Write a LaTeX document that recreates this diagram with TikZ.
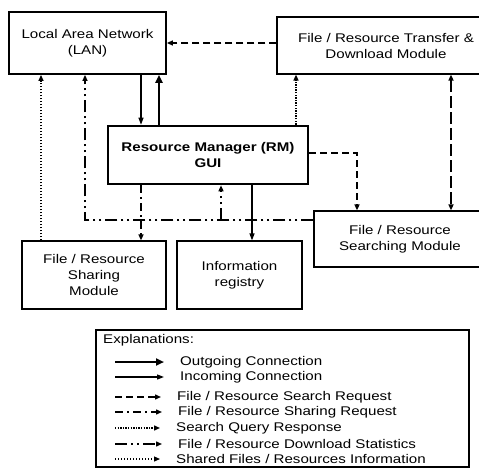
\documentclass[tikz,border=0pt]{standalone}
\usepackage{fontspec}
\setmainfont{Liberation Sans}[FakeStretch=1.2]
\usetikzlibrary{arrows.meta}

\tikzset{
	txt/.style={font=\fontsize{12.6}{16}\selectfont},
	box/.style={draw, line width=1.2pt, align=center, inner sep=2pt, txt},
	legtext/.style={anchor=west, inner sep=0pt, txt},
	tip/.style={-{Triangle[length=6pt,width=5pt]}},
	outgoing/.style={line width=2.6pt, -{Triangle[length=8pt,width=7pt]}},
	incoming/.style={line width=1.2pt, -{Triangle[length=7pt,width=5pt]}},
	searchreq/.style={line width=1.4pt, dash pattern=on 7pt off 4pt, tip},
	bothreq/.style={line width=1.6pt, dash pattern=on 12pt off 4pt, {Triangle[length=6pt,width=5pt]}-{Triangle[length=6pt,width=5pt]}},
	sharereq/.style={line width=1.4pt, dash pattern=on 8pt off 4pt on 2pt off 4pt, tip},
	queryresp/.style={line width=1.4pt, dash pattern=on 1.4pt off 1.2pt, tip},
	downstat/.style={line width=1.4pt, dash pattern=on 12pt off 4pt on 2pt off 4pt on 2pt off 4pt, tip},
	sharedinfo/.style={line width=1.2pt, dash pattern=on 1.2pt off 1.8pt, tip}
}

\begin{document}
\begin{tikzpicture}[x=1pt, y=-1pt]
	\clip (0,0) rectangle (479,468);
	\node (lan) at (87.5,43) [box, line width=1.8pt, minimum width=157, minimum height=62] {Local Area Network\\(LAN)};
	\node (xfer) at (386,45.5) [box, minimum width=218, minimum height=57] {File / Resource Transfer \&\\Download Module};
	\node (rm) at (208,155) [box, line width=2.6pt, minimum width=200, minimum height=58, font=\fontsize{12.6}{16}\selectfont\bfseries] {Resource Manager (RM)\\GUI};
		\node (share) at (94,275) [box, minimum width=144, minimum height=68] {File / Resource\\Sharing\\Module};
		\node (info) at (239.5,275) [box, minimum width=125, minimum height=68] {Information\\registry};
		\node (search) at (400,239) [box, minimum width=172, minimum height=56] {File / Resource\\Searching Module};
	\coordinate (junc) at (85,220);
	\coordinate (tee) at (221,220);
	\draw[incoming] (141,0 |- lan.south) -- (141,0 |- rm.north);
	\draw[outgoing] (159,0 |- rm.north) -- (159,0 |- lan.south);
	\draw[searchreq] (xfer.west |- lan.east) -- (lan.east);
	\draw[queryresp] (296,0 |- rm.north) -- (296,0 |- xfer.south);
	\draw[bothreq] (451,0 |- xfer.south) -- (451,0 |- search.north);
	\draw[searchreq] (rm.east |- 0,153) -| (357,0 |- search.north);
	\draw[sharedinfo] (41,0 |- share.north) -- (41,0 |- lan.south);
	\draw[downstat] (search.west |- junc) -- (junc) -- (85,0 |- lan.south);
	\draw[downstat] (tee) -- (tee |- rm.south);
	\draw[sharereq] (141,0 |- rm.south) -- (141,0 |- share.north);
	\draw[incoming] (252,0 |- rm.south) -- (252,0 |- info.north);
	% explanations
	\node (legend) at (282.5,398.5) [draw, line width=1.2pt, minimum width=373, minimum height=137] {};
	\node (expl) at (103,340) [legtext] {Explanations:};
	\foreach \sty/\y/\tx/\txt in {
		outgoing/362/180/{Outgoing Connection},
		incoming/377/180/{Incoming Connection},
		searchreq/397/177/{File / Resource Search Request},
		sharereq/412/178/{File / Resource Sharing Request},
		queryresp/428/176/{Search Query Response},
		downstat/444/178/{File / Resource Download Statistics},
		sharedinfo/459/176/{Shared Files / Resources Information}}
	{
		\coordinate (s\y) at (115,\y);
		\coordinate (e\y) at (\tx-16,\y);
		\draw[\sty] (s\y) -- (e\y);
		\node (t\y) at (\tx,\y) [legtext] {\txt};
	}
\end{tikzpicture}
\end{document}
